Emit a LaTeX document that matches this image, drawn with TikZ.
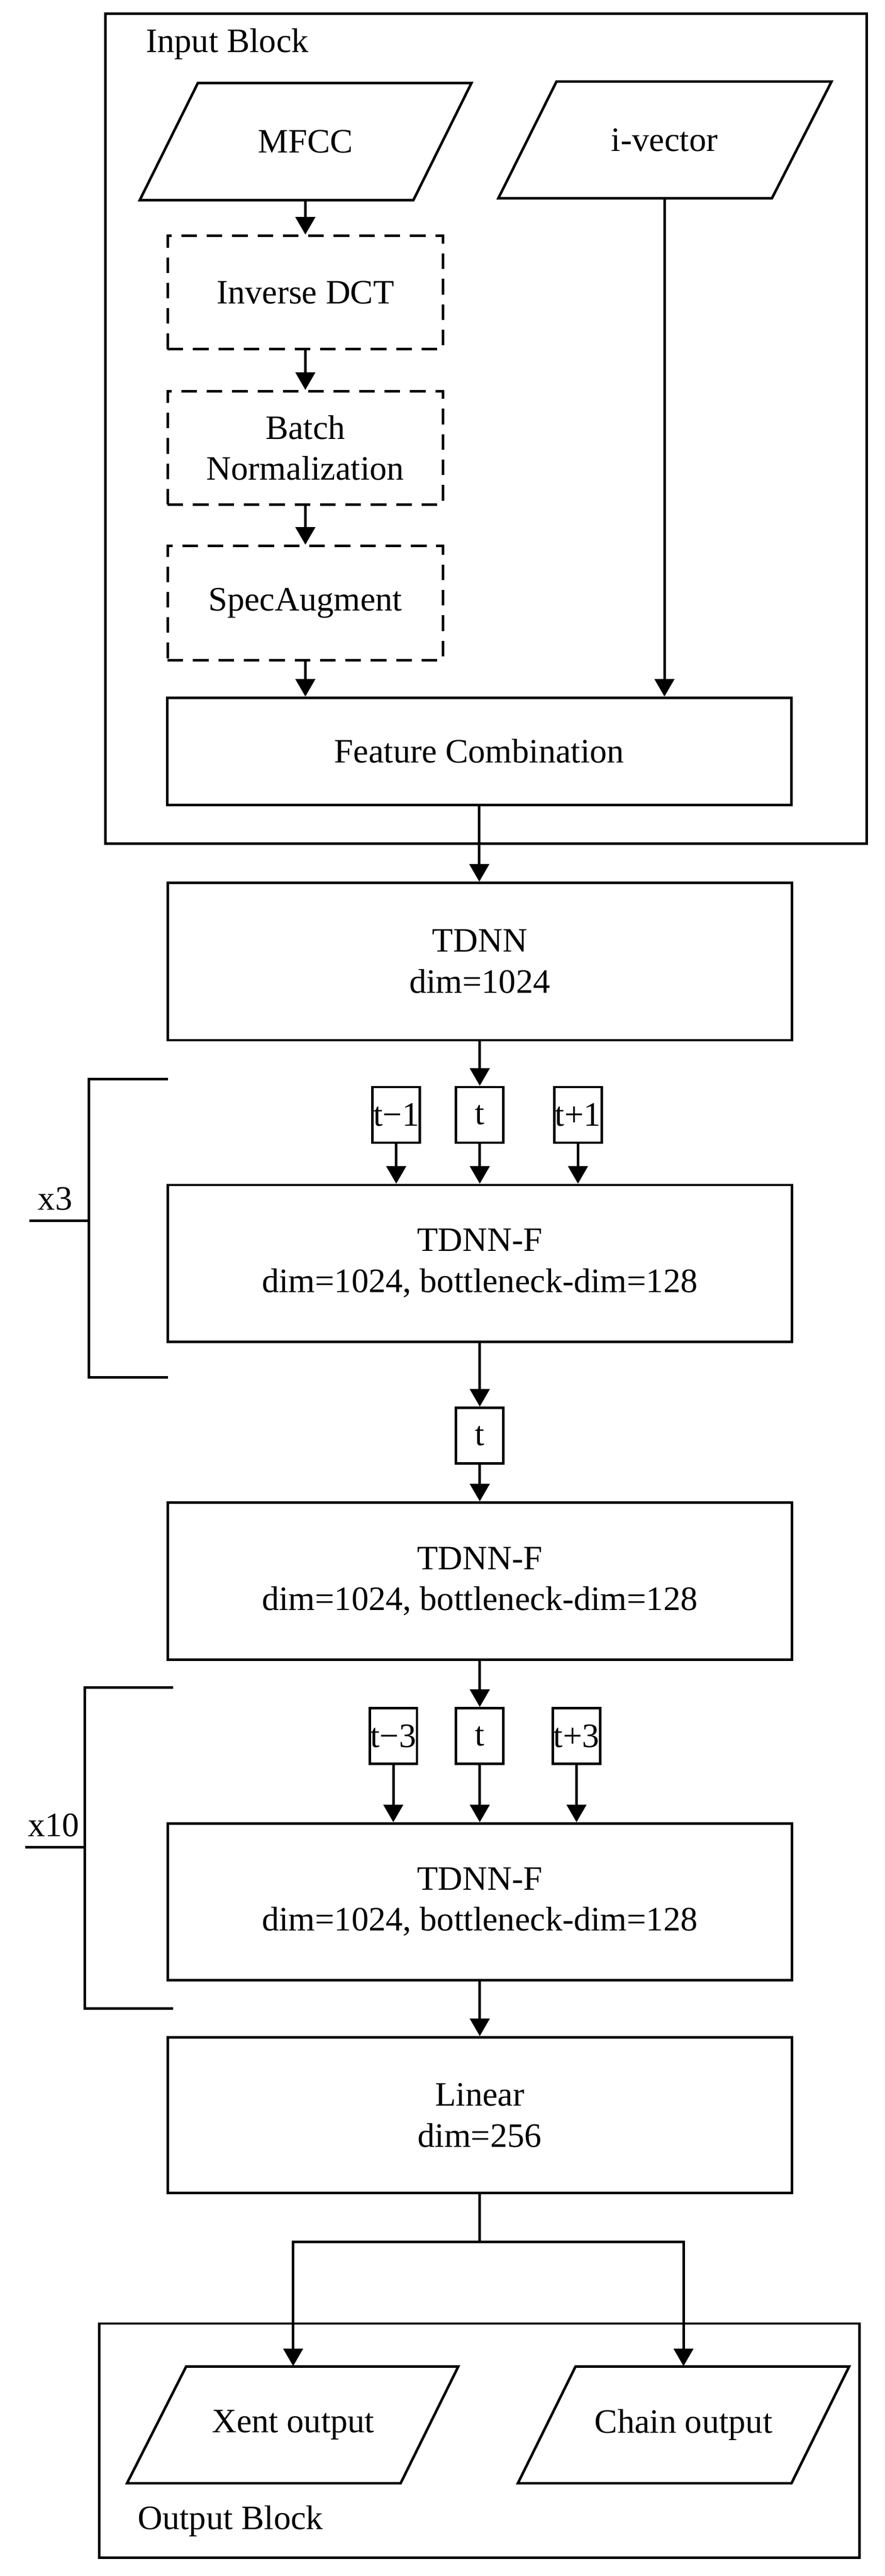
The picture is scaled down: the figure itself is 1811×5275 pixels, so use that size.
\documentclass[tikz,border=0pt]{standalone}
\usepackage{fontspec}
\setmainfont{Liberation Serif}
\usetikzlibrary{arrows.meta}
\begin{document}
\fontsize{17.5}{21}\selectfont
\begin{tikzpicture}[x=0.25pt,y=-0.25pt,
  lw/.style={line width=1.3pt},
  box/.style={draw,lw,rectangle,inner sep=0pt,align=center,minimum width=319.5pt,minimum height=80.5pt},
  dbox/.style={box,dash pattern=on 8pt off 5pt,minimum width=141pt,minimum height=58pt},
  sbox/.style={draw,lw,rectangle,inner sep=0pt,minimum width=24.25pt,minimum height=28.5pt},
  para/.style={inner sep=0pt,minimum height=60pt,align=center},
  arr/.style={lw,-{Triangle[width=10pt,length=9pt]}},
  ln/.style={lw}]
\useasboundingbox (0,0) rectangle (1811,5275);
% input block
\draw[lw] (216,28) rectangle (1774,1728);
\node[anchor=west] (inlab) at (275,90) {Input Block};
\node[para] (mfcc) at (625,290) {MFCC};
\draw[lw] (286,410) -- (405,170) -- (965,170) -- (846,410) -- cycle;
\node[para,minimum height=59.75pt] (ivec) at (1360,286.5) {i-vector};
\draw[lw] (1020,406) -- (1139,167) -- (1702,167) -- (1580,406) -- cycle;
\node[dbox] (idct) at (625,599) {Inverse DCT};
\node[dbox] (bn) at (625,917) {Batch\\Normalization};
\node[dbox,minimum height=58.5pt] (sa) at (625,1235) {SpecAugment};
\node[box,minimum height=54.75pt] (fc) at (981,1538.5) {Feature Combination};
\draw[arr] (mfcc.south) -- (idct.north);
\draw[arr] (idct.south) -- (bn.north);
\draw[arr] (bn.south) -- (sa.north);
\draw[arr] (sa.south) -- (sa.south |- fc.north);
\draw[arr] (ivec.south) -- (ivec.south |- fc.north);
% main stack
\node[box] (tdnn) at (982,1969) {TDNN\\dim=1024};
\draw[arr] (fc.south) -- (fc.south |- tdnn.north);
\node[sbox] (tm1) at (811,2283) {t\textminus1};
\node[sbox] (t1) at (982,2283) {t};
\node[sbox] (tp1) at (1183,2283) {t+1};
\node[box,minimum height=80.25pt] (f1) at (982,2587) {TDNN-F\\dim=1024, bottleneck-dim=128};
\draw[arr] (tdnn.south) -- (t1.north);
\draw[arr] (tm1.south) -- (tm1.south |- f1.north);
\draw[arr] (t1.south) -- (f1.north);
\draw[arr] (tp1.south) -- (tp1.south |- f1.north);
\node[sbox] (t2) at (982,2940) {t};
\node[box,minimum height=80.5pt] (f2) at (982,3238) {TDNN-F\\dim=1024, bottleneck-dim=128};
\draw[arr] (f1.south) -- (t2.north);
\draw[arr] (t2.south) -- (f2.north);
\node[sbox] (tm3) at (805,3555) {t\textminus3};
\node[sbox] (t3) at (982,3555) {t};
\node[sbox] (tp3) at (1180,3555) {t+3};
\node[box,minimum height=80.25pt] (f3) at (982,3894.5) {TDNN-F\\dim=1024, bottleneck-dim=128};
\draw[arr] (f2.south) -- (t3.north);
\draw[arr] (tm3.south) -- (tm3.south |- f3.north);
\draw[arr] (t3.south) -- (f3.north);
\draw[arr] (tp3.south) -- (tp3.south |- f3.north);
\node[box,minimum height=79.75pt] (lin) at (982,4331.5) {Linear\\dim=256};
\draw[arr] (f3.south) -- (lin.north);
% brackets
\draw[ln] (344,2210) -- (182,2210) -- (182,2821) -- (344,2821);
\coordinate (b3) at (182,2500);
\coordinate (b3e) at (60,2500);
\draw[ln] (b3e) -- (b3);
\node (x3) at (113,2455) {x3};
\draw[ln] (354,3456) -- (174,3456) -- (174,4113) -- (354,4113);
\coordinate (b10) at (174,3783);
\coordinate (b10e) at (52,3783);
\draw[ln] (b10e) -- (b10);
\node (x10) at (110,3738) {x10};
% output block
\draw[lw] (203,4758) rectangle (1759,5237);
\node[anchor=west] (outlab) at (258,5163) {Output Block};
\node[para,minimum height=59.75pt] (xent) at (600,4965.5) {Xent output};
\draw[lw] (260,5085) -- (381,4846) -- (938,4846) -- (820,5085) -- cycle;
\node[para,minimum height=59.75pt] (chain) at (1399,4965.5) {Chain output};
\draw[lw] (1060,5085) -- (1178,4846) -- (1738,4846) -- (1620,5085) -- cycle;
\coordinate (split) at (982,4591);
\draw[lw] (lin.south) -- (split);
\draw[arr] (split) -| (xent.north);
\draw[arr] (split) -| (chain.north);
\end{tikzpicture}
\end{document}
